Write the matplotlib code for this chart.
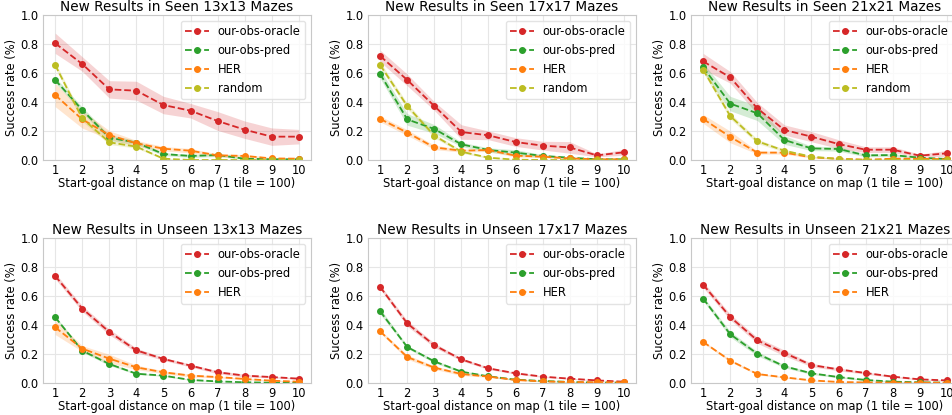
import numpy as np
import matplotlib
matplotlib.use('Agg')
import matplotlib.pyplot as plt

# distance bins (1 tile = 100)
dist = [1, 2, 3, 4, 5, 6, 7, 8, 9, 10]

# ---- Seen mazes ----
seen13_oracle = [0.805, 0.662, 0.487, 0.478, 0.379, 0.340, 0.269, 0.209, 0.161, 0.161]
seen13_oracle_err = [0.07, 0.05, 0.06, 0.065, 0.06, 0.05, 0.065, 0.06, 0.06, 0.05]
seen13_pred = [0.552, 0.345, 0.154, 0.120, 0.041, 0.028, 0.034, 0.009, 0.005, 0.005]
seen13_pred_err = [0.02, 0.02, 0.02, 0.015, 0.01, 0.01, 0.01, 0.005, 0.003, 0.003]
seen13_her = [0.448, 0.280, 0.172, 0.115, 0.078, 0.064, 0.032, 0.028, 0.011, 0.009]
seen13_her_err = [0.08, 0.06, 0.03, 0.02, 0.015, 0.015, 0.01, 0.01, 0.005, 0.005]
seen13_rand = [0.655, 0.287, 0.122, 0.092, 0.009, 0.0, 0.0, 0.0, 0.0, 0.0]
seen13_rand_err = [0.02, 0.02, 0.015, 0.01, 0.005, 0.0, 0.0, 0.0, 0.0, 0.0]

seen17_oracle = [0.717, 0.552, 0.372, 0.193, 0.170, 0.124, 0.099, 0.087, 0.032, 0.053]
seen17_oracle_err = [0.04, 0.04, 0.03, 0.05, 0.03, 0.03, 0.03, 0.04, 0.01, 0.02]
seen17_pred = [0.593, 0.280, 0.214, 0.108, 0.069, 0.051, 0.028, 0.016, 0.005, 0.005]
seen17_pred_err = [0.03, 0.04, 0.03, 0.015, 0.015, 0.02, 0.01, 0.005, 0.003, 0.003]
seen17_her = [0.283, 0.189, 0.087, 0.064, 0.069, 0.030, 0.023, 0.011, 0.005, 0.005]
seen17_her_err = [0.02, 0.02, 0.015, 0.01, 0.01, 0.01, 0.005, 0.005, 0.003, 0.003]
seen17_rand = [0.655, 0.372, 0.168, 0.057, 0.016, 0.002, 0.0, 0.0, 0.0, 0.0]
seen17_rand_err = [0.02, 0.02, 0.015, 0.01, 0.005, 0.002, 0.0, 0.0, 0.0, 0.0]

seen21_oracle = [0.680, 0.570, 0.356, 0.207, 0.161, 0.110, 0.071, 0.071, 0.030, 0.046]
seen21_oracle_err = [0.055, 0.04, 0.04, 0.035, 0.035, 0.03, 0.02, 0.02, 0.01, 0.02]
seen21_pred = [0.639, 0.389, 0.322, 0.138, 0.080, 0.076, 0.032, 0.034, 0.016, 0.007]
seen21_pred_err = [0.03, 0.05, 0.05, 0.03, 0.015, 0.015, 0.01, 0.01, 0.005, 0.003]
seen21_her = [0.283, 0.159, 0.051, 0.051, 0.018, 0.009, 0.002, 0.009, 0.009, 0.005]
seen21_her_err = [0.03, 0.04, 0.01, 0.01, 0.005, 0.005, 0.002, 0.005, 0.005, 0.003]
seen21_rand = [0.623, 0.303, 0.129, 0.064, 0.023, 0.007, 0.0, 0.0, 0.0, 0.0]
seen21_rand_err = [0.02, 0.02, 0.015, 0.01, 0.005, 0.003, 0.0, 0.0, 0.0, 0.0]

# ---- Unseen mazes ----
unseen13_oracle = [0.738, 0.513, 0.352, 0.225, 0.166, 0.120, 0.074, 0.051, 0.041, 0.030]
unseen13_oracle_err = [0.02, 0.02, 0.02, 0.015, 0.01, 0.01, 0.01, 0.01, 0.005, 0.005]
unseen13_pred = [0.453, 0.223, 0.131, 0.064, 0.051, 0.021, 0.011, 0.005, 0.002, 0.002]
unseen13_pred_err = [0.01, 0.01, 0.01, 0.005, 0.005, 0.003, 0.003, 0.002, 0.001, 0.001]
unseen13_her = [0.384, 0.237, 0.168, 0.108, 0.074, 0.051, 0.041, 0.028, 0.016, 0.009]
unseen13_her_err = [0.05, 0.02, 0.03, 0.015, 0.01, 0.01, 0.005, 0.005, 0.005, 0.003]

unseen17_oracle = [0.662, 0.411, 0.260, 0.163, 0.101, 0.067, 0.044, 0.030, 0.018, 0.009]
unseen17_oracle_err = [0.015, 0.02, 0.015, 0.01, 0.008, 0.006, 0.005, 0.004, 0.003, 0.002]
unseen17_pred = [0.494, 0.248, 0.149, 0.078, 0.046, 0.023, 0.014, 0.007, 0.002, 0.002]
unseen17_pred_err = [0.02, 0.01, 0.01, 0.008, 0.005, 0.003, 0.003, 0.002, 0.001, 0.001]
unseen17_her = [0.356, 0.179, 0.106, 0.062, 0.044, 0.021, 0.011, 0.007, 0.005, 0.005]
unseen17_her_err = [0.01, 0.015, 0.012, 0.01, 0.005, 0.004, 0.003, 0.002, 0.002, 0.002]

unseen21_oracle = [0.678, 0.455, 0.294, 0.207, 0.124, 0.094, 0.069, 0.044, 0.025, 0.018]
unseen21_oracle_err = [0.02, 0.02, 0.02, 0.02, 0.012, 0.01, 0.008, 0.006, 0.004, 0.004]
unseen21_pred = [0.582, 0.336, 0.202, 0.115, 0.067, 0.041, 0.021, 0.009, 0.005, 0.002]
unseen21_pred_err = [0.015, 0.02, 0.015, 0.01, 0.008, 0.006, 0.004, 0.003, 0.002, 0.001]
unseen21_her = [0.283, 0.154, 0.062, 0.039, 0.018, 0.007, 0.004, 0.003, 0.002, 0.002]
unseen21_her_err = [0.008, 0.008, 0.006, 0.005, 0.003, 0.002, 0.002, 0.001, 0.001, 0.001]

colors = {'our-obs-oracle': '#d62728', 'our-obs-pred': '#2ca02c',
          'HER': '#ff7f0e', 'random': '#bcbd22'}

panels = [
    ("New Results in Seen 13x13 Mazes",
     [('our-obs-oracle', seen13_oracle, seen13_oracle_err), ('our-obs-pred', seen13_pred, seen13_pred_err),
      ('HER', seen13_her, seen13_her_err), ('random', seen13_rand, seen13_rand_err)]),
    ("New Results in Seen 17x17 Mazes",
     [('our-obs-oracle', seen17_oracle, seen17_oracle_err), ('our-obs-pred', seen17_pred, seen17_pred_err),
      ('HER', seen17_her, seen17_her_err), ('random', seen17_rand, seen17_rand_err)]),
    ("New Results in Seen 21x21 Mazes",
     [('our-obs-oracle', seen21_oracle, seen21_oracle_err), ('our-obs-pred', seen21_pred, seen21_pred_err),
      ('HER', seen21_her, seen21_her_err), ('random', seen21_rand, seen21_rand_err)]),
    ("New Results in Unseen 13x13 Mazes",
     [('our-obs-oracle', unseen13_oracle, unseen13_oracle_err), ('our-obs-pred', unseen13_pred, unseen13_pred_err),
      ('HER', unseen13_her, unseen13_her_err)]),
    ("New Results in Unseen 17x17 Mazes",
     [('our-obs-oracle', unseen17_oracle, unseen17_oracle_err), ('our-obs-pred', unseen17_pred, unseen17_pred_err),
      ('HER', unseen17_her, unseen17_her_err)]),
    ("New Results in Unseen 21x21 Mazes",
     [('our-obs-oracle', unseen21_oracle, unseen21_oracle_err), ('our-obs-pred', unseen21_pred, unseen21_pred_err),
      ('HER', unseen21_her, unseen21_her_err)]),
]

W, H = 953, 415
fig = plt.figure(figsize=(W / 100, H / 100), dpi=100)

# axes boxes in pixels (left edge per column, top edge per row)
lefts = [43, 368, 691]
tops = [15, 238]
aw, ah = 268, 145

x = np.array(dist)
for i, (title, series) in enumerate(panels):
    r, c = divmod(i, 3)
    l, t = lefts[c], tops[r]
    ax = fig.add_axes([l / W, 1 - (t + ah) / H, aw / W, ah / H])
    for name, vals, err in series:
        v = np.array(vals)
        e = np.array(err)
        col = colors[name]
        ax.fill_between(x, v - e, v + e, color=col, alpha=0.2, linewidth=0)
        ax.plot(x, v, '--', marker='o', color=col, markersize=4, linewidth=1.3, label=name)
    ax.set_ylim(0, 1.0)
    ax.set_xticks(dist)
    ax.set_yticks([0.0, 0.2, 0.4, 0.6, 0.8, 1.0])
    ax.grid(True, color='#e6e6e6', linewidth=0.8)
    ax.set_axisbelow(True)
    for s in ax.spines.values():
        s.set_color('#c8c8c8')
        s.set_linewidth(0.8)
    ax.tick_params(length=0, labelsize=8.3, pad=3)
    ax.set_title(title, fontsize=9.8, pad=3)
    ax.set_xlabel('Start-goal distance on map (1 tile = 100)', fontsize=8.3, labelpad=0)
    ax.set_ylabel('Success rate (%)', fontsize=8.3, labelpad=2)
    ax.legend(loc='upper right', fontsize=8.3, framealpha=0.8,
              edgecolor='#dddddd', handlelength=2.0)

fig.savefig('out.png', dpi=100)
